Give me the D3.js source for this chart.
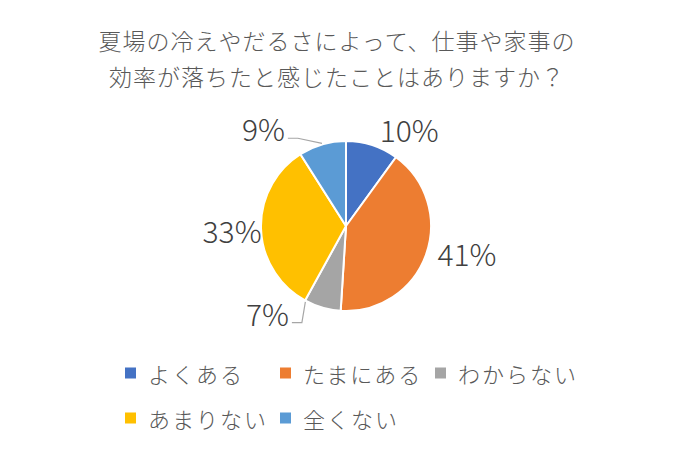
<!DOCTYPE html>
<html>
<head>
<meta charset="utf-8">
<script src="https://cdn.jsdelivr.net/npm/d3@7"></script>
<style>
  body { margin: 0; background: #fff; }
  svg { display: block; font-family: "Noto Sans CJK JP", "Noto Sans", sans-serif; }
</style>
</head>
<body>
<svg width="692" height="450"></svg>
<script>
// Data.
const titleLines = ['夏場の冷えやだるさによって、仕事や家事の', '効率が落ちたと感じたことはありますか？'];
const categories = ['よくある', 'たまにある', 'わからない', 'あまりない', '全くない'];
const values = [10, 41, 7, 33, 9];
const colours = ['#4472C4', '#ED7D31', '#A5A5A5', '#FFC000', '#5B9BD5'];

// Set up.
const width = 692;
const height = 450;
const cx = 346;
const cy = 226;
const radius = 85;
const textColour = '#595959';

const svg = d3.select('svg');

// Title.
svg.append('g')
  .selectAll('text')
  .data(titleLines)
  .join('text')
  .attr('x', 337)
  .attr('y', (d, i) => 50 + i * 36)
  .attr('text-anchor', 'middle')
  .attr('fill', textColour)
  .attr('font-size', 23)
  .attr('font-weight', 300)
  .attr('letter-spacing', 1)
  .text(d => d);

// Pie.
const pie = d3.pie().sort(null).value(d => d);
const arcs = pie(values);
const arc = d3.arc().innerRadius(0).outerRadius(radius);

const g = svg.append('g').attr('transform', `translate(${cx},${cy})`);

g.selectAll('path')
  .data(arcs)
  .join('path')
  .attr('d', arc)
  .attr('fill', (d, i) => colours[i])
  .attr('stroke', '#fff')
  .attr('stroke-width', 2);

// Labels (Excel "best fit" style: nudged off the mid angle).
const labelShift = [15, -7, 26, 0, -24];   // degrees
const labelRadius = [116, 124, 117, 114, 128];
const leaderShift = [null, null, 12, null, 0]; // degrees, null = no leader

const labels = g.selectAll('text.pct')
  .data(arcs)
  .join('text')
  .attr('class', 'pct')
  .attr('text-anchor', 'middle')
  .attr('dominant-baseline', 'central')
  .attr('fill', '#404040')
  .attr('font-size', 30)
  .attr('font-weight', 300)
  .attr('transform', (d, i) => {
    const a = (d.startAngle + d.endAngle) / 2 + labelShift[i] * Math.PI / 180;
    const r = labelRadius[i];
    return `translate(${r * Math.sin(a)},${-r * Math.cos(a)})`;
  })
  .text(d => `${d.value}%`);

// Leader lines for the small slices.
labels.each(function(d, i) {
  if (leaderShift[i] === null) return;
  const box = this.getBBox();
  const t = this.transform.baseVal.consolidate().matrix;
  const endX = t.e + box.x + box.width + 3;
  const endY = t.f + 10;
  const a = (d.startAngle + d.endAngle) / 2 + leaderShift[i] * Math.PI / 180;
  const px = (radius + 1) * Math.sin(a);
  const py = -(radius + 1) * Math.cos(a);
  g.append('path')
    .attr('d', d3.line()([[endX, endY], [endX + 10, endY], [px, py]]))
    .attr('fill', 'none')
    .attr('stroke', '#A6A6A6')
    .attr('stroke-width', 1.2);
});

// Legend.
const colWidth = 155;
const legend = svg.append('g')
  .selectAll('g')
  .data(categories)
  .join('g')
  .attr('transform', (d, i) => `translate(${125 + (i % 3) * colWidth},${373 + Math.floor(i / 3) * 45})`);

legend.append('rect')
  .attr('x', 0)
  .attr('y', -5.5)
  .attr('width', 11)
  .attr('height', 11)
  .attr('fill', (d, i) => colours[i]);

legend.append('text')
  .attr('x', 23)
  .attr('dominant-baseline', 'central')
  .attr('fill', textColour)
  .attr('font-size', 22)
  .attr('font-weight', 300)
  .attr('letter-spacing', 2)
  .text(d => d);
</script>
</body>
</html>
